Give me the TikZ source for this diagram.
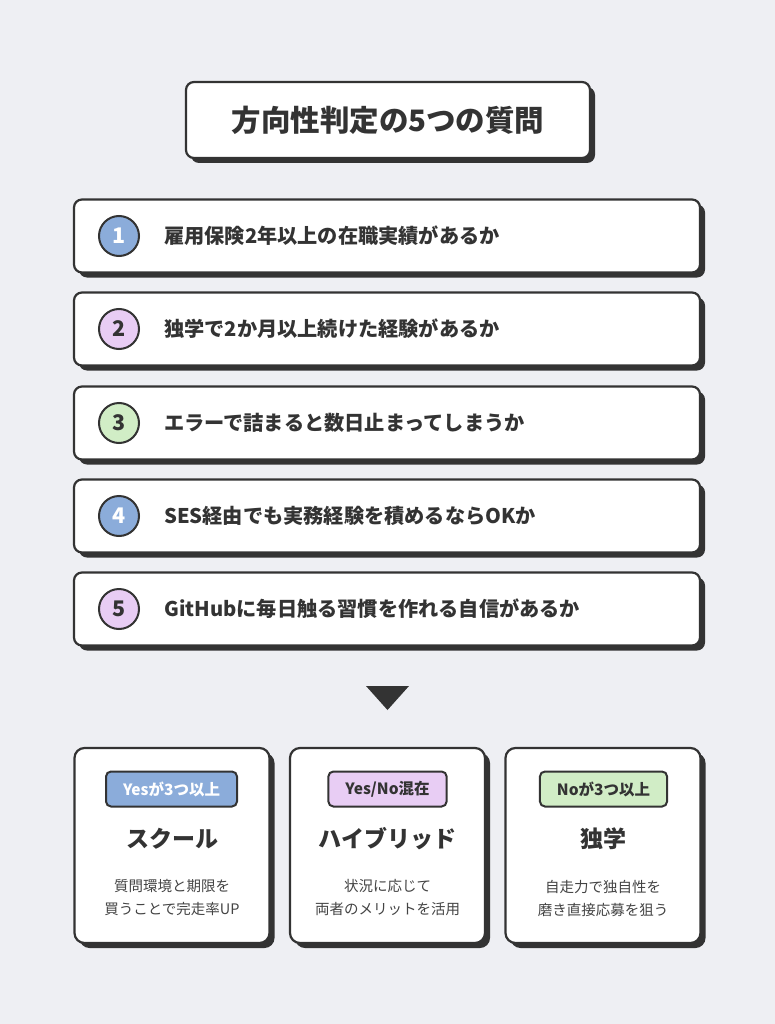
\documentclass[tikz,border=0pt]{standalone}
\usepackage{fontspec}
\setmainfont{Noto Sans CJK JP}
\usetikzlibrary{shadows}
\definecolor{bg}{HTML}{EEEFF3}
\definecolor{ink}{HTML}{333333}
\definecolor{qblue}{HTML}{8BACDA}
\definecolor{qpurple}{HTML}{E8CDF4}
\definecolor{qgreen}{HTML}{D1EDC6}
\definecolor{descgray}{HTML}{444444}
\begin{document}
\begin{tikzpicture}[x=1pt,y=-1pt]
        \tikzstyle{card}=[rectangle,draw=ink,line width=2.2pt,fill=white,rounded corners=8pt,drop shadow={shadow xshift=5pt,shadow yshift=-5pt,fill=ink,opacity=1}]
        \tikzstyle{question}=[card,minimum width=626pt,minimum height=73pt]
        \tikzstyle{num}=[circle,draw=ink,line width=2pt,minimum size=40pt,inner sep=0pt,font=\fontsize{21.5}{26}\selectfont\bfseries,text=ink]
        \tikzstyle{qtext}=[anchor=west,inner sep=0pt,font=\fontsize{20.2}{24}\selectfont\bfseries,text=ink]
        \tikzstyle{result}=[card,rounded corners=10pt,minimum width=195pt,minimum height=195pt]
        \tikzstyle{badge}=[rectangle,draw=ink,line width=2pt,rounded corners=5pt,minimum height=35pt,inner xsep=17pt,font=\fontsize{15.5}{18}\selectfont\bfseries,text=ink]
        \tikzstyle{heading}=[font=\fontsize{23}{28}\selectfont\bfseries,text=ink]
        \tikzstyle{desc}=[align=center,font=\fontsize{14.5}{23}\selectfont,text=descgray]
        \fill [bg] (0,0) rectangle (775,1024);
        \useasboundingbox (0,0) rectangle (775,1024);
        % title
        \node [card,minimum width=404pt,minimum height=76pt,font=\fontsize{29.5}{34}\selectfont\bfseries,text=ink] (title) at (388,120) {方向性判定の5つの質問};
        % questions
        \node [question] (q1) at (387,236) {};
        \node [num,fill=qblue,text=white] (q1num) at (119,236) {1};
        \node [qtext] (q1text) at (164,236) {雇用保険2年以上の在職実績があるか};
        \node [question] (q2) at (387,329) {};
        \node [num,fill=qpurple] (q2num) at (119,329) {2};
        \node [qtext] (q2text) at (164,329) {独学で2か月以上続けた経験があるか};
        \node [question] (q3) at (387,423) {};
        \node [num,fill=qgreen] (q3num) at (119,423) {3};
        \node [qtext] (q3text) at (164,423) {エラーで詰まると数日止まってしまうか};
        \node [question] (q4) at (387,516) {};
        \node [num,fill=qblue,text=white] (q4num) at (119,516) {4};
        \node [qtext] (q4text) at (164,516) {SES経由でも実務経験を積めるならOKか};
        \node [question] (q5) at (387,609) {};
        \node [num,fill=qpurple] (q5num) at (119,609) {5};
        \node [qtext] (q5text) at (164,609) {GitHubに毎日触る習慣を作れる自信があるか};
        % arrow down
        \fill [ink] (366,686) -- (409,686) -- (387.5,710) -- cycle;
        % results
        \node [result] (school) at (172,845.5) {};
        \node [badge,fill=qblue,text=white] (schoolbadge) at (171.5,789) {Yesが3つ以上};
        \node [heading] (schoolhead) at (172,839) {スクール};
        \node [desc] (schooldesc) at (172,898) {質問環境と期限を\\買うことで完走率UP};
        \node [result] (hybrid) at (387.5,845.5) {};
        \node [badge,fill=qpurple] (hybridbadge) at (387.5,789) {Yes/No混在};
        \node [heading] (hybridhead) at (387.5,839) {ハイブリッド};
        \node [desc] (hybriddesc) at (387.5,898) {状況に応じて\\両者のメリットを活用};
        \node [result] (self) at (603,845.5) {};
        \node [badge,fill=qgreen] (selfbadge) at (603.5,789) {Noが3つ以上};
        \node [heading] (selfhead) at (603,839) {独学};
        \node [desc] (selfdesc) at (603,898) {自走力で独自性を\\磨き直接応募を狙う};
\end{tikzpicture}
\end{document}
